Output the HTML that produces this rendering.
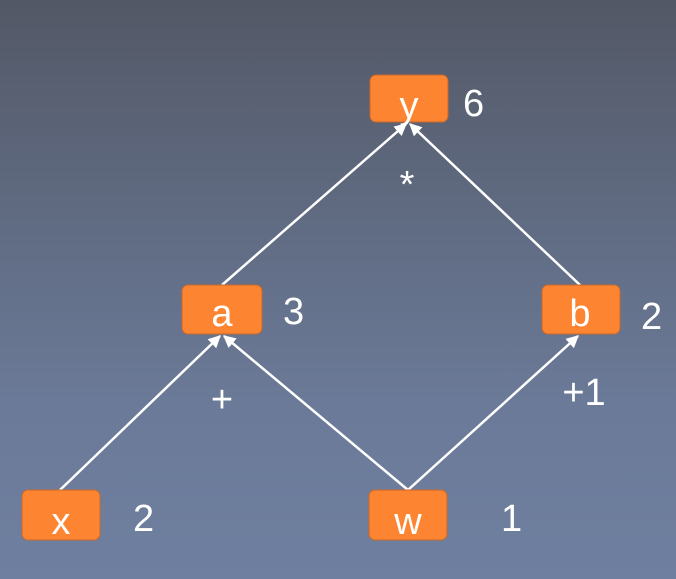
<!DOCTYPE html>
<html><head><meta charset="utf-8"><style>
html,body{margin:0;padding:0;}
body{width:676px;height:579px;overflow:hidden;background:linear-gradient(#535866 0%,#5f6a80 35%,#6b7a98 70%,#6f7f9f 100%);}
svg{display:block;}
text{font-family:"Liberation Sans",sans-serif;fill:#fff;}
</style></head><body>
<svg width="676" height="579">
<defs>
<marker id="ah" viewBox="0 0 10 10" refX="9" refY="5" markerWidth="5" markerHeight="5" orient="auto"><path d="M0,0 L10,5 L0,10 z" fill="#fff"/></marker>
</defs>
<g stroke="#fff" stroke-width="2.5" fill="none">
<line x1="60" y1="490" x2="220" y2="336" marker-end="url(#ah)"/>
<line x1="408" y1="490" x2="224" y2="336" marker-end="url(#ah)"/>
<line x1="408" y1="490" x2="578" y2="336" marker-end="url(#ah)"/>
<line x1="222" y1="285" x2="406" y2="124" marker-end="url(#ah)"/>
<line x1="580" y1="285" x2="410" y2="124" marker-end="url(#ah)"/>
</g>
<g><rect x="370" y="75" width="78" height="47" rx="6" fill="#fd8431" stroke="#c9672a"/><text x="409" y="118" text-anchor="middle" font-size="38">y</text></g>
<g><rect x="182" y="285" width="80" height="49" rx="6" fill="#fd8431" stroke="#c9672a"/><text x="222" y="326" text-anchor="middle" font-size="38">a</text></g>
<g><rect x="542" y="285" width="78" height="49" rx="6" fill="#fd8431" stroke="#c9672a"/><text x="580" y="326" text-anchor="middle" font-size="38">b</text></g>
<g><rect x="22" y="490" width="78" height="50" rx="6" fill="#fd8431" stroke="#c9672a"/><text x="61" y="534" text-anchor="middle" font-size="38">x</text></g>
<g><rect x="369" y="490" width="78" height="50" rx="6" fill="#fd8431" stroke="#c9672a"/><text x="408" y="534" text-anchor="middle" font-size="38">w</text></g>
<g font-size="38">
<text x="463" y="116">6</text>
<text x="283" y="324">3</text>
<text x="641" y="329">2</text>
<text x="133" y="531">2</text>
<text x="501" y="531">1</text>
</g>
<g font-size="38" text-anchor="middle">
<text x="407" y="197">*</text>
<text x="222" y="412">+</text>
<text x="584" y="405">+1</text>
</g>
</svg>
</body></html>
